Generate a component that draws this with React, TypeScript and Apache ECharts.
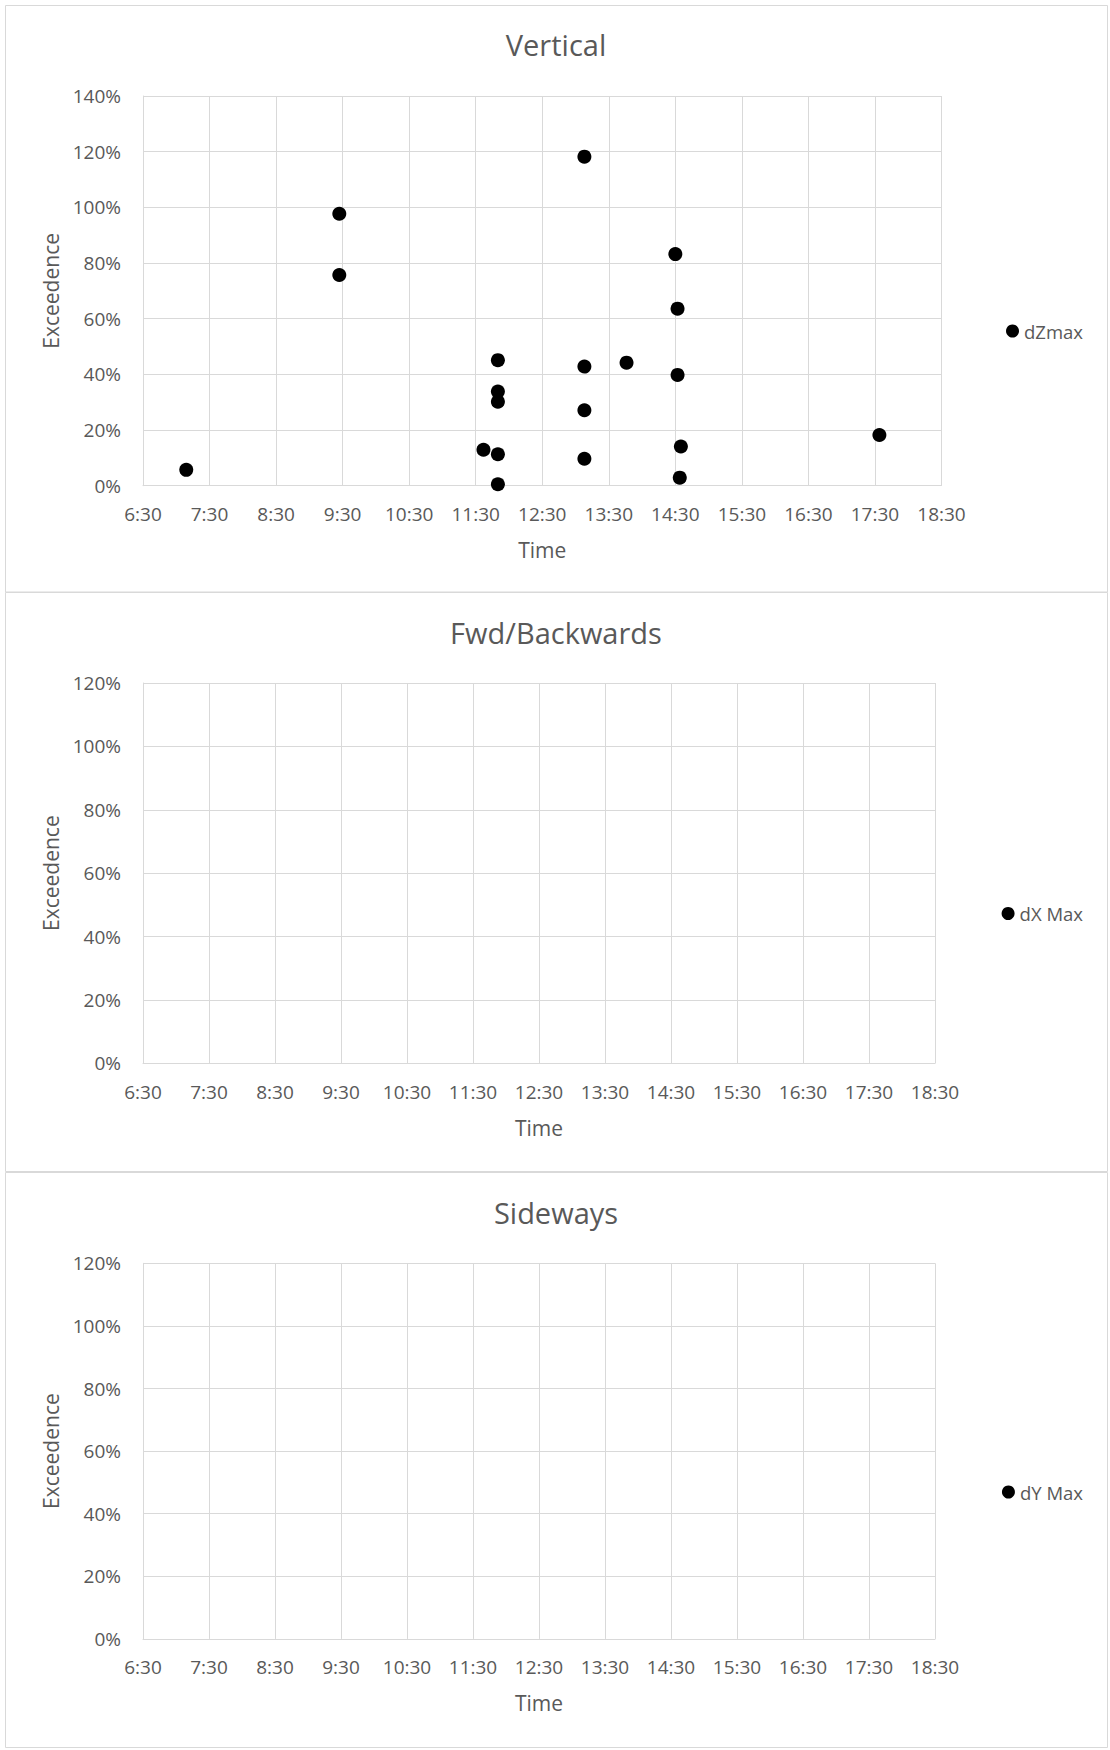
import React, { useEffect, useRef } from "react";
import * as echarts from "echarts";

// ---- Data ----
const panelTitles = ["Vertical", "Fwd/Backwards", "Sideways"];
const seriesNames = ["dZmax", "dX Max", "dY Max"];
const yAxisMax = [140, 120, 120];

// dZmax points: time of day and exceedance (%)
const dZTimes = [
  "7:09", "9:27", "9:27", "11:37", "11:50", "11:50", "11:50", "11:50", "11:50",
  "13:08", "13:08", "13:08", "13:08", "13:46", "14:30", "14:32", "14:32", "14:35",
  "14:34", "17:34",
];
const dZValues = [
  5.7, 97.7, 75.7, 12.9, 45.1, 33.8, 30.2, 11.3, 0.5,
  118.2, 42.8, 27.1, 9.7, 44.2, 83.2, 63.6, 39.8, 14.1,
  2.9, 18.2,
];
// dX Max and dY Max have no points
const dXTimes: string[] = [];
const dXValues: number[] = [];
const dYTimes: string[] = [];
const dYValues: number[] = [];

const axisStart = "6:30"; // first x tick
const axisSpanMinutes = 720; // 6:30 .. 18:30
const axisStepMinutes = 60;

const toMin = (t: string) => {
  const [h, m] = t.split(":").map(Number);
  return h * 60 + m;
};
const START = toMin(axisStart);
const fmtTime = (v: number) => {
  const m = START + v;
  const h = Math.floor(m / 60);
  const mm = m % 60;
  return `${h}:${mm < 10 ? "0" + mm : mm}`;
};
const pts = (times: string[], vals: number[]) =>
  times.map((t, i) => [toMin(t) - START, vals[i]]);

const FONT = "Open Sans";
const TXT = "#595959";
const GRID = "#d9d9d9";

export default function App() {
  const ref = useRef<HTMLDivElement>(null);
  useEffect(() => {
    if (!ref.current) return;
    const chart = echarts.init(ref.current, undefined, { renderer: "svg" });

    const grids = [
      { left: 143, top: 96, width: 798.5, height: 389.7 },
      { left: 143, top: 683, width: 792, height: 380.3 },
      { left: 143, top: 1263.3, width: 792, height: 375.6 },
    ];
    const titleY = [44, 632, 1212];
    const legendTop = [321, 903.5, 1482];
    const panels = [
      { y: 5.5, h: 586.5 },
      { y: 592.5, h: 579 },
      { y: 1172.5, h: 575 },
    ];
    const data = [
      pts(dZTimes, dZValues),
      pts(dXTimes, dXValues),
      pts(dYTimes, dYValues),
    ];

    const option: any = {
      animation: false,
      backgroundColor: "#ffffff",
      textStyle: { fontFamily: FONT },
      grid: grids.map((g) => ({ ...g, containLabel: false })),
      xAxis: grids.map((_, i) => ({
        type: "value",
        gridIndex: i,
        min: 0,
        max: axisSpanMinutes,
        interval: axisStepMinutes,
        name: "Time",
        nameLocation: "middle",
        nameGap: 54,
        nameTextStyle: { color: TXT, fontSize: 21, fontFamily: FONT },
        axisLine: { show: true, lineStyle: { color: GRID, width: 1 } },
        axisTick: { show: false },
        axisLabel: {
          color: TXT,
          fontSize: 19,
          fontFamily: FONT,
          margin: 19,
          formatter: (v: number) => fmtTime(v),
        },
        splitLine: { show: true, lineStyle: { color: GRID, width: 1 } },
      })),
      yAxis: grids.map((_, i) => ({
        type: "value",
        gridIndex: i,
        min: 0,
        max: yAxisMax[i],
        interval: 20,
        name: "Exceedence",
        nameLocation: "middle",
        nameRotate: 90,
        nameGap: 81,
        nameTextStyle: { color: TXT, fontSize: 21, fontFamily: FONT },
        axisLine: { show: true, lineStyle: { color: GRID, width: 1 } },
        axisTick: { show: false },
        axisLabel: {
          color: TXT,
          fontSize: 19,
          fontFamily: FONT,
          margin: 22,
          formatter: "{value}%",
        },
        splitLine: { show: true, lineStyle: { color: GRID, width: 1 } },
      })),
      legend: seriesNames.map((n, i) => ({
        data: [n],
        right: 27,
        top: legendTop[i],
        padding: 0,
        orient: "vertical",
        icon: "circle",
        itemWidth: 13,
        itemHeight: 13,
        itemStyle: { color: "#000000", opacity: 1 },
        textStyle: {
          color: TXT,
          fontSize: 18.5,
          fontFamily: FONT,
          lineHeight: 20,
        },
      })),
      series: seriesNames.map((n, i) => ({
        name: n,
        type: "scatter",
        xAxisIndex: i,
        yAxisIndex: i,
        symbol: "circle",
        symbolSize: 14,
        itemStyle: { color: "#000000", opacity: 1 },
        emphasis: { disabled: true },
        data: data[i],
      })),
      graphic: [
        ...panels.map((p) => ({
          type: "rect",
          shape: { x: 5.5, y: p.y, width: 1102, height: p.h },
          style: { fill: "none", stroke: GRID, lineWidth: 1 },
          silent: true,
          z: -10,
        })),
        ...panelTitles.map((t, i) => ({
          type: "text",
          x: 556,
          y: titleY[i],
          style: {
            text: t,
            fill: TXT,
            fontSize: 29,
            fontFamily: FONT,
            align: "center",
            verticalAlign: "middle",
          },
          silent: true,
        })),
      ],
    };
    chart.setOption(option);
    return () => chart.dispose();
  }, []);

  return (
    <div
      ref={ref}
      style={{ position: "absolute", left: 0, top: 0, width: 1110, height: 1750 }}
    />
  );
}
